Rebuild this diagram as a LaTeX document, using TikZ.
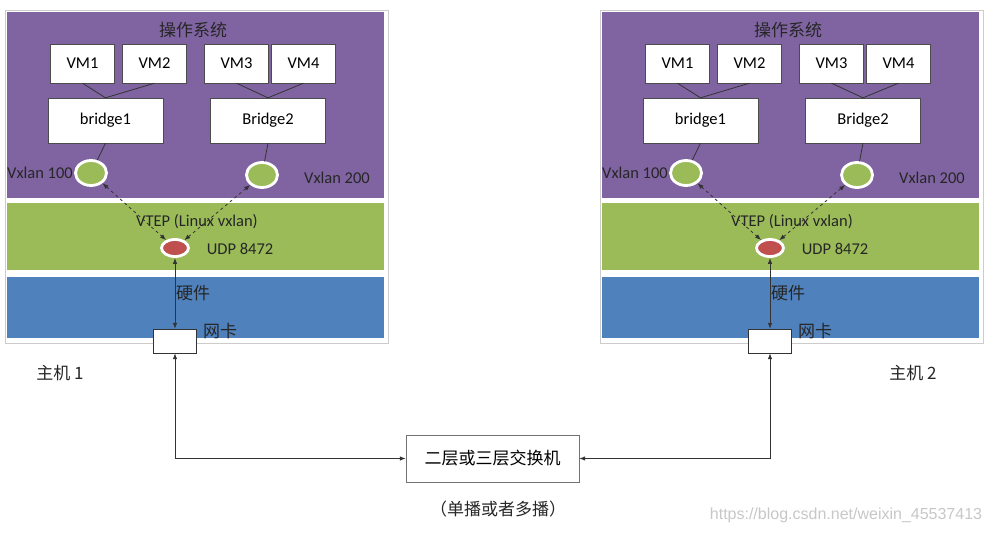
\documentclass[tikz,border=0pt]{standalone}
\usepackage{fontspec}
\setmainfont{Carlito}
\newfontfamily\cjk{Noto Sans CJK SC}
\newfontfamily\wmfont{Liberation Sans}
\usetikzlibrary{shapes.geometric,arrows.meta}
\definecolor{ospurple}{RGB}{128,100,162}
\definecolor{vtepgreen}{RGB}{155,187,89}
\definecolor{hwblue}{RGB}{79,129,189}
\definecolor{udpred}{RGB}{192,80,77}
\newcommand\lblsize{\fontsize{16.5}{18}\selectfont}
\newcommand\cjksize{\cjk\fontsize{17}{19}\selectfont}
\tikzset{
  vmbox/.style={draw=black!70,fill=white,minimum width=64pt,minimum height=39pt,inner sep=0pt,font=\lblsize},
  brbox/.style={vmbox,minimum width=115pt,minimum height=45pt},
  port/.style={ellipse,draw=white,line width=2.8pt,fill=vtepgreen,minimum width=31pt,minimum height=25pt,inner sep=0pt},
  udp/.style={port,fill=udpred,minimum width=27pt,minimum height=17pt},
  link/.style={black!80,line width=0.8pt},
  lbl/.style={font=\lblsize,black!85,inner sep=0pt},
  cjklbl/.style={font=\cjksize,black!85,inner sep=0pt}
}
\begin{document}
\begin{tikzpicture}[x=1pt,y=-1pt,>={Latex[length=6pt,width=4.5pt]}]
  \useasboundingbox (0,0) rectangle (991,535);
  \foreach \h/\dx in {1/0,2/595}{
    \begin{scope}[xshift=\dx]
      % layers of the host
      \draw[black!20,fill=white] (5,10) rectangle (388,343);
      \fill[ospurple] (7,12) rectangle (384,198);
      \fill[vtepgreen] (7,203) rectangle (384,270);
      \fill[hwblue] (7,277) rectangle (384,338);
      \node[cjklbl] (os-\h) at (193,30) {操作系统};
      \node[vmbox] (vm1-\h) at (82.5,63.5) {VM1};
      \node[vmbox] (vm2-\h) at (154.5,63.5) {VM2};
      \node[vmbox] (vm3-\h) at (236.5,63.5) {VM3};
      \node[vmbox] (vm4-\h) at (303.5,63.5) {VM4};
      \node[brbox] (br1-\h) at (105.5,120.5) {bridge1};
      \node[brbox] (br2-\h) at (268,120.5) {Bridge2};
      \node[port] (g1-\h) at (91,173) {};
      \node[port] (g2-\h) at (262,175) {};
      \node[udp] (r-\h) at (175,248) {};
      \node[rectangle,draw=black!80,fill=white,minimum width=43pt,minimum height=24pt] (nic-\h) at (175,341) {};
      \node[lbl] (vx1-\h) at (40,173) {Vxlan 100};
      \node[lbl] (vx2-\h) at (337,178) {Vxlan 200};
      \node[lbl] (vtep-\h) at (197,222) {VTEP (Linux vxlan)};
      \node[lbl] (port-\h) at (240,249) {UDP 8472};
      \node[cjklbl] (hw-\h) at (193,293) {硬件};
      \node[cjklbl] (nk-\h) at (220,331) {网卡};
      % connectors
      \draw[link] (vm1-\h.south) -- (br1-\h.north);
      \draw[link] (vm2-\h.south) -- (br1-\h.north);
      \draw[link] (vm3-\h.south) -- (br2-\h.north);
      \draw[link] (vm4-\h.south) -- (br2-\h.north);
      \draw[link] (br1-\h.south) -- (g1-\h);
      \draw[link] (br2-\h.south) -- (g2-\h);
      \draw[link,dashed,<->] (g1-\h) -- (r-\h);
      \draw[link,dashed,<->] (g2-\h) -- (r-\h);
      \draw[link,<->] (r-\h) -- (nic-\h);
    \end{scope}
  }
  \node[cjklbl] (host1) at (60,373) {主机 1};
  \node[cjklbl] (host2) at (913,373) {主机 2};
  \node[draw=black!55,fill=white,minimum width=173pt,minimum height=47pt,font=\cjksize] (sw) at (492.5,458.5) {二层或三层交换机};
  \node[cjklbl] (cast) at (498,509) {（单播或者多播）};
  \draw[link,<->] (nic-1.south) |- (sw.west);
  \draw[link,<->] (nic-2.south) |- (sw.east);
  \node[font=\wmfont\fontsize{16}{18}\selectfont,black!22] (wm) at (846,515) {https://blog.csdn.net/weixin\_45537413};
\end{tikzpicture}
\end{document}
